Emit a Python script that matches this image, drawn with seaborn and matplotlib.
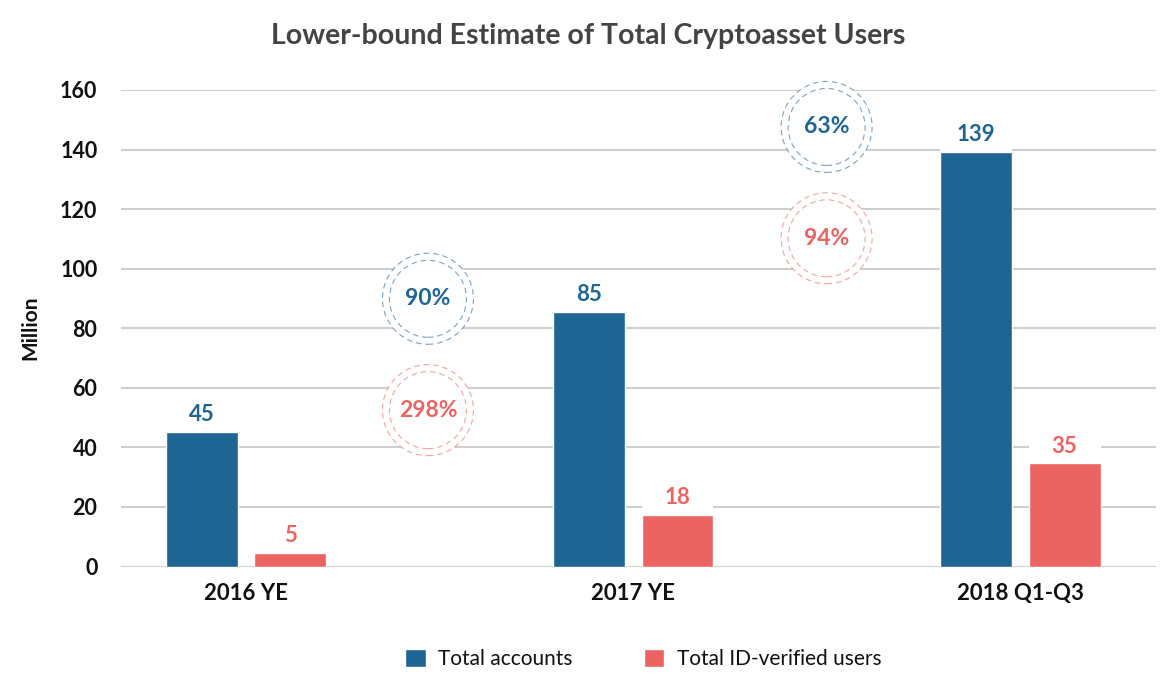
import pandas as pd
import matplotlib.pyplot as plt
import seaborn as sns
from matplotlib.patches import Patch, Rectangle

# data
periods = ['2016 YE', '2017 YE', '2018 Q1-Q3']
accounts = [45.3, 85.4, 139.3]
verified = [4.4, 17.4, 34.6]
accounts_labels = ['45', '85', '139']
verified_labels = ['5', '18', '35']
series = ['Total accounts', 'Total ID-verified users']

# growth bubbles between periods
growth_x = [0.47, 1.50]
growth_accounts = ['90%', '63%']
growth_accounts_y = [89.9, 147.6]
growth_verified = ['298%', '94%']
growth_verified_y = [52.5, 110.2]

BLUE = '#1f6594'
RED = '#ec6461'
BLUE_RING = '#7aa3c6'
RED_RING = '#f5a3a0'

df = pd.DataFrame({
    'period': periods * 2,
    'value': accounts + verified,
    'series': [series[0]] * 3 + [series[1]] * 3,
})

sns.set_style('white')
plt.rcParams['font.family'] = ['Lato', 'DejaVu Sans']

fig = plt.figure(figsize=(11.76, 6.86), dpi=100)
ax = fig.add_axes([121 / 1176, 119.5 / 686, (1156 - 121) / 1176, (566.5 - 90) / 686])

sns.barplot(data=df, x='period', y='value', hue='series', palette=[BLUE, RED],
            width=0.459, gap=0.19, saturation=1, ax=ax, zorder=2)

ax.set_xlim(-0.323, 2.351)
ax.set_ylim(0, 160)
ax.set_yticks(range(0, 161, 20))
ax.set_axisbelow(True)
ax.yaxis.grid(True, color='#cfcfcf', linewidth=1.5, zorder=0)
ax.xaxis.grid(False)
sns.despine(ax=ax, left=True, bottom=True)
ax.tick_params(axis='both', length=0, labelcolor='#111111')
ax.tick_params(axis='y', pad=17, labelsize=15.5)
ax.tick_params(axis='x', pad=12, labelsize=16)
for lab in ax.get_xticklabels() + ax.get_yticklabels():
    lab.set_fontweight('bold')
ax.set_xlabel('')
ax.set_ylabel('Million', fontsize=15, fontweight='bold', color='#111111', labelpad=14)

# value labels with a white strip above each bar
for cont, labels, col in zip(ax.containers, [accounts_labels, verified_labels], [BLUE, RED]):
    for bar, txt in zip(cont.patches, labels):
        x0, w, h = bar.get_x(), bar.get_width(), bar.get_height()
        ax.add_patch(Rectangle((x0, h), w, 9.5, facecolor='white', edgecolor='none', zorder=1.5))
        ax.annotate(txt, (x0 + w / 2, h), xytext=(0, 5), textcoords='offset points',
                    ha='center', va='bottom', fontsize=16, fontweight='bold',
                    fontstyle='normal', color=col, zorder=3)

# dashed double-ring growth bubbles
def bubble(x, y, txt, ring, col):
    ax.scatter([x], [y], s=(91 * 0.72) ** 2, facecolors='white', edgecolors=ring,
               linewidths=0.8, linestyle=(0, (5, 3.5)), zorder=4, clip_on=False)
    ax.scatter([x], [y], s=(77 * 0.72) ** 2, facecolors='none', edgecolors=ring,
               linewidths=0.8, linestyle=(0, (5, 3.5)), zorder=4, clip_on=False)
    ax.text(x, y, txt, ha='center', va='center', fontsize=16.5, fontweight='bold',
            fontstyle='normal', color=col, zorder=5)

for x, y, t in zip(growth_x, growth_accounts_y, growth_accounts):
    bubble(x, y, t, BLUE_RING, BLUE)
for x, y, t in zip(growth_x, growth_verified_y, growth_verified):
    bubble(x, y, t, RED_RING, RED)

ax.legend_.remove()
handles = [Patch(facecolor=BLUE), Patch(facecolor=RED)]
fig.legend(handles, series, loc='center', bbox_to_anchor=(0.547, 1 - 659 / 686), ncol=2,
           frameon=False, fontsize=15, handlelength=1.0, handleheight=1.0,
           handletextpad=0.6, columnspacing=3.4, labelcolor='#111111')

fig.suptitle('Lower-bound Estimate of Total Cryptoasset Users', x=0.5, y=1 - 36 / 686,
             va='center', fontsize=20.5, fontweight='bold', color='#444444')

fig.savefig('out.png', dpi=100, facecolor='white')
